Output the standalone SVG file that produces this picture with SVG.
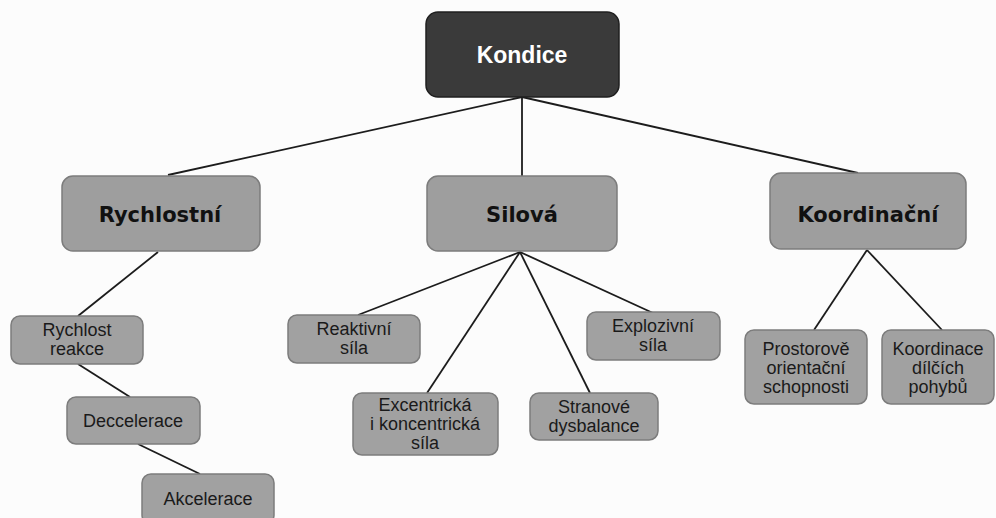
<svg xmlns="http://www.w3.org/2000/svg" width="996" height="518" viewBox="0 0 996 518">
  <style>
    .root rect { fill: #3a3a3a; stroke: #1f1f1f; stroke-width: 1.5; }
    .root text { fill: #ffffff; font-family: "Liberation Sans", Arial, sans-serif; font-weight: bold; font-size: 23px; text-anchor: middle; }
    .main rect { fill: #9e9e9e; stroke: #7c7c7c; stroke-width: 1.5; }
    .main text { fill: #111111; font-family: "DejaVu Sans", Verdana, sans-serif; font-weight: bold; font-size: 21px; text-anchor: middle; }
    .leaf rect { fill: #a1a1a1; stroke: #7c7c7c; stroke-width: 1.5; }
    .leaf text { fill: #1a1a1a; font-family: "Liberation Sans", Arial, sans-serif; font-size: 18px; text-anchor: middle; }
    .edges line { stroke: #1c1c1c; stroke-width: 1.8; }
  </style>
  <rect width="996" height="518" fill="#fcfcfc"/>

  <!-- connectors -->
  <g class="edges">
    <line x1="522" y1="97" x2="168" y2="175"/>
    <line x1="522" y1="97" x2="522" y2="176"/>
    <line x1="522" y1="97" x2="858" y2="173"/>
    <line x1="158" y1="252" x2="78" y2="316"/>
    <line x1="78" y1="364" x2="130" y2="397"/>
    <line x1="138" y1="444" x2="200" y2="474"/>
    <line x1="520" y1="252" x2="358" y2="315"/>
    <line x1="520" y1="252" x2="427" y2="393"/>
    <line x1="520" y1="252" x2="590" y2="393"/>
    <line x1="520" y1="252" x2="653" y2="313"/>
    <line x1="867" y1="250" x2="814" y2="330"/>
    <line x1="867" y1="250" x2="942" y2="330"/>
  </g>

  <g id="kondice" class="root">
    <rect x="426" y="12" width="193" height="85" rx="12"/>
    <text x="522" y="63">Kondice</text>
  </g>

  <g id="rychlostni" class="main">
    <rect x="62" y="176" width="198" height="75" rx="11"/>
    <text x="160" y="222">Rychlostní</text>
  </g>
  <g id="silova" class="main">
    <rect x="427" y="176" width="190" height="75" rx="11"/>
    <text x="522" y="222">Silová</text>
  </g>
  <g id="koordinacni" class="main">
    <rect x="770" y="173" width="196" height="76" rx="11"/>
    <text x="868" y="222">Koordinační</text>
  </g>

  <g id="rychlost-reakce" class="leaf">
    <rect x="11" y="316" width="132" height="48" rx="9"/>
    <text x="77" y="336">Rychlost</text>
    <text x="77" y="355">reakce</text>
  </g>
  <g id="deccelerace" class="leaf">
    <rect x="67" y="397" width="133" height="47" rx="9"/>
    <text x="133" y="427">Deccelerace</text>
  </g>
  <g id="akcelerace" class="leaf">
    <rect x="142" y="474" width="132" height="50" rx="9"/>
    <text x="208" y="505">Akcelerace</text>
  </g>

  <g id="reaktivni-sila" class="leaf">
    <rect x="288" y="315" width="132" height="48" rx="9"/>
    <text x="354" y="335">Reaktivní</text>
    <text x="354" y="354">síla</text>
  </g>
  <g id="excentricka-sila" class="leaf">
    <rect x="353" y="393" width="145" height="62" rx="9"/>
    <text x="425" y="411">Excentrická</text>
    <text x="425" y="430">i koncentrická</text>
    <text x="425" y="449">síla</text>
  </g>
  <g id="stranove-dysbalance" class="leaf">
    <rect x="530" y="393" width="128" height="47" rx="9"/>
    <text x="594" y="413">Stranové</text>
    <text x="594" y="432">dysbalance</text>
  </g>
  <g id="explozivni-sila" class="leaf">
    <rect x="587" y="312" width="133" height="48" rx="9"/>
    <text x="653" y="332">Explozivní</text>
    <text x="653" y="351">síla</text>
  </g>

  <g id="prostorove-orientacni" class="leaf">
    <rect x="745" y="330" width="122" height="74" rx="9"/>
    <text x="806" y="355">Prostorově</text>
    <text x="806" y="374">orientační</text>
    <text x="806" y="393">schopnosti</text>
  </g>
  <g id="koordinace-dilcich" class="leaf">
    <rect x="882" y="330" width="112" height="74" rx="9"/>
    <text x="938" y="355">Koordinace</text>
    <text x="938" y="374">dílčích</text>
    <text x="938" y="393">pohybů</text>
  </g>
</svg>
